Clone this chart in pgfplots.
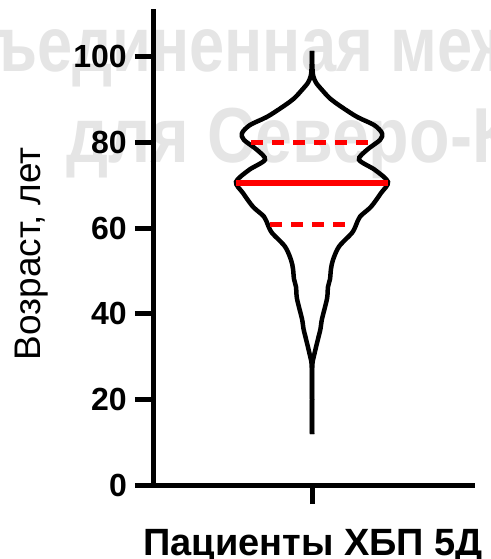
\documentclass[border=0pt]{standalone}
\usepackage{fontspec}
\setmainfont{Liberation Sans}
\usepackage{graphicx}
\usepackage{pgfplots}
\pgfplotsset{compat=1.18}
\usepackage{pgfplotstable}

% violin outline: age (years) and half width (px from the centre)
\pgfplotstableread{
age  hw
11.9 0
20.0 0
27.8 0.3
30.2 2
34.1 6
36.5 8.5
38.8 10
43.5 15
46.3 16
48.1 18
50.5 19
52.6 21
55.7 27
58.9 40
60.7 44
62.7 48
65.0 59
68.2 69
70.8 76
73.6 63
76.0 47
78.3 55
80.6 68
82.2 70
84.1 62
86.0 45
88.4 29
90.3 18
92.3 10
94.0 4
95.6 1.2
98.0 0.3
101.4 0
}\violin

\definecolor{medred}{RGB}{255,0,0}

\begin{document}
\begin{tikzpicture}
\useasboundingbox (-154pt,-74pt) rectangle (336pt,485pt);
\clip (-154pt,-74pt) rectangle (336pt,485pt);
% watermark
\node[anchor=base west, text=black!10, inner sep=0pt,
  font=\bfseries\fontsize{78}{80}\selectfont] at (-163pt,413pt)
  {\scalebox{0.81}[1]{\llap{Об}ъединенная межрегиональная}};
\node[anchor=base west, text=black!10, inner sep=0pt,
  font=\bfseries\fontsize{78}{80}\selectfont] at (-88pt,322pt)
  {\scalebox{0.85}[1]{для Северо-Кавказского}};
\begin{axis}[
  at={(0,0)}, anchor=south west,
  width=318pt, height=473pt, scale only axis,
  xmin=-158, xmax=160, ymin=0, ymax=110.5,
  axis lines=left,
  axis line style={-, line width=5pt, line cap=rect},
  xtick={0}, xticklabels={},
  ytick={0,20,...,100},
  tick align=outside, major tick length=19pt,
  tick style={line width=5pt, black},
  /pgf/number format/assume math mode=true,
  yticklabel style={font=\bfseries\fontsize{32}{34}\selectfont, inner sep=0pt, xshift=-8pt},
  ylabel={Возраст, лет},
  ylabel style={font=\fontsize{37}{40}\selectfont,
    at={(axis description cs:-0.384,0.489)}, anchor=center},
  xlabel={Пациенты ХБП 5Д},
  xlabel style={font=\bfseries\fontsize{38}{40}\selectfont,
    at={(axis description cs:0.5,-0.150)}, anchor=base},
  clip=false,
]
\addplot[black, line width=4.5pt, smooth, tension=0.5] table[x=hw, y=age] {\violin};
\addplot[black, line width=4.5pt, smooth, tension=0.5] table[x expr=-\thisrow{hw}, y=age] {\violin};
\addplot[medred, line width=6pt] coordinates {(-76,70.6) (76,70.6)};
\addplot[medred, line width=5pt, dash pattern=on 12pt off 9pt] coordinates {(-61,80.0) (61,80.0)};
\addplot[medred, line width=5pt, dash pattern=on 12pt off 9pt] coordinates {(-42,60.8) (40,60.8)};
\end{axis}
\end{tikzpicture}
\end{document}
